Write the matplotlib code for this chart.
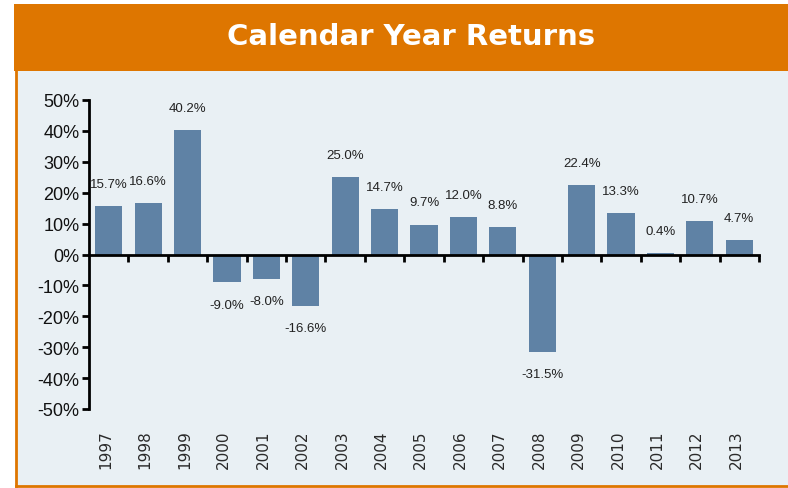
import matplotlib
matplotlib.use("Agg")
import matplotlib.pyplot as plt
import matplotlib.patches as patches
import matplotlib.transforms as mtransforms
import numpy as np

# data
years = ['1997', '1998', '1999', '2000', '2001', '2002', '2003', '2004', '2005',
         '2006', '2007', '2008', '2009', '2010', '2011', '2012', '2013']
returns = [15.7, 16.6, 40.2, -9.0, -8.0, -16.6, 25.0, 14.7, 9.7,
           12.0, 8.8, -31.5, 22.4, 13.3, 0.4, 10.7, 4.7]
yticks = [-50, -40, -30, -20, -10, 0, 10, 20, 30, 40, 50]

orange = '#DE7600'
panel = '#E9F0F4'
barcol = '#5F82A5'

fig = plt.figure(figsize=(7.88, 4.89), dpi=100)
fig.patch.set_facecolor('white')

# light panel with orange border (left + bottom) and orange header band
W, H = 788.0, 489.0
fig.patches.append(patches.Rectangle((16 / W, 2 / H), 1 - 16 / W, (487 - 72) / H,
                                     transform=fig.transFigure, facecolor=panel,
                                     edgecolor='none', zorder=-2))
fig.add_artist(plt.Line2D([16 / W, 16 / W], [2 / H, 1 - 72 / H], color=orange, lw=2,
                          transform=fig.transFigure, zorder=-1))
fig.add_artist(plt.Line2D([16 / W, 1], [2 / H, 2 / H], color=orange, lw=2,
                          transform=fig.transFigure, zorder=-1))
fig.patches.append(patches.Rectangle((14 / W, 1 - 72 / H), 1 - 14 / W, 67 / H,
                                     transform=fig.transFigure, facecolor=orange,
                                     edgecolor='none', zorder=-1))
fig.text(411 / W, 1 - 37 / H, 'Calendar Year Returns', color='white', fontsize=21,
         fontweight='bold', family='DejaVu Sans', ha='center', va='center')

ax = fig.add_axes([89 / W, 1 - 410 / H, (759 - 89) / W, (410 - 101) / H])
ax.set_facecolor('none')

x = np.arange(len(years))
ax.bar(x, returns, width=0.69, color=barcol, zorder=2)

ax.set_xlim(-0.5, len(years) - 0.5)
ax.set_ylim(-50, 50)

# value labels
for xi, v in zip(x, returns):
    off = 16 if v >= 0 else -16
    ax.annotate(f'{v:.1f}%', (xi, v), xytext=(0, off), textcoords='offset points',
                ha='center', va='center', fontsize=9.5, color='#222222',
                family='Liberation Sans')

# spines
for s in ['top', 'right']:
    ax.spines[s].set_visible(False)
ax.spines['left'].set_linewidth(2)
ax.spines['bottom'].set_linewidth(2)
ax.spines['bottom'].set_position(('data', 0))

ax.set_yticks(yticks)
ax.set_yticklabels([f'{t}%' for t in yticks], fontsize=13, family='Liberation Sans',
                   color='#111111')
ax.tick_params(axis='y', direction='out', length=5, width=2, pad=2)

ax.set_xticks(x[:-1] + 0.5)
ax.set_xticks([x[-1] + 0.5], minor=True)
ax.set_xticklabels([])
ax.tick_params(axis='x', which='both', direction='out', length=5, width=2)

# year labels below the plot
trans = mtransforms.blended_transform_factory(ax.transData, ax.transAxes)
for xi, yr in zip(x, years):
    ax.text(xi - 0.08, -0.065, yr, rotation=90, ha='center', va='top', fontsize=11,
            color='#2a2a2a', family='DejaVu Sans',
            transform=trans)

fig.savefig('out.png', dpi=100, facecolor=fig.get_facecolor())
